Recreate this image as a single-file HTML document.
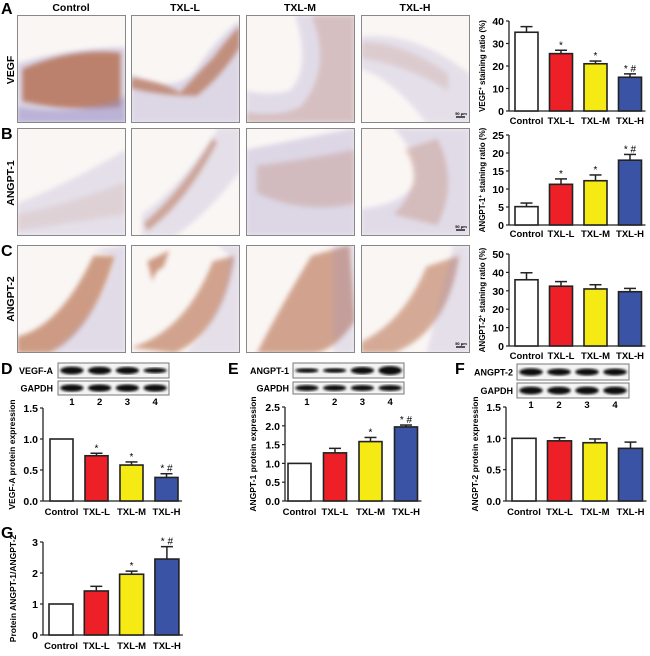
<!DOCTYPE html>
<html><head><meta charset="utf-8"><style>
body{margin:0;background:#fff;}
svg{display:block;font-family:"Liberation Sans",Arial,sans-serif;font-weight:bold;}
</style></head><body>
<svg id="fig" width="650" height="656" viewBox="0 0 650 656" xmlns="http://www.w3.org/2000/svg">
<defs>
<filter id="bl" x="-20%" y="-20%" width="140%" height="140%"><feGaussianBlur stdDeviation="2.5"/></filter>
<filter id="bl2"><feGaussianBlur stdDeviation="1.2"/></filter>
</defs>
<g id="micro"></g>
<g id="blots"></g>
<g id="charts"></g>
<g id="labels">
<text x="1" y="14" font-size="16">A</text>
<text x="1" y="139" font-size="16">B</text>
<text x="1" y="256" font-size="16">C</text>
<text x="1" y="374" font-size="16">D</text>
<text x="228" y="374" font-size="16">E</text>
<text x="455" y="374" font-size="16">F</text>
<text x="1" y="538" font-size="16">G</text>
<text x="71" y="11" font-size="10.5" text-anchor="middle">Control</text>
<text x="185" y="11" font-size="10.5" text-anchor="middle">TXL-L</text>
<text x="300" y="11" font-size="10.5" text-anchor="middle">TXL-M</text>
<text x="415" y="11" font-size="10.5" text-anchor="middle">TXL-H</text>
<text transform="translate(14,70) rotate(-90)" font-size="10.5" text-anchor="middle">VEGF</text>
<text transform="translate(14,183) rotate(-90)" font-size="10.5" text-anchor="middle">ANGPT-1</text>
<text transform="translate(14,299) rotate(-90)" font-size="10.5" text-anchor="middle">ANGPT-2</text>
</g>
</svg>
<script>
// ---- chart data ----
const groups = ["Control","TXL-L","TXL-M","TXL-H"];
const vegfStain = [35, 25.5, 21, 15];
const vegfStainErr = [2.5, 1.5, 1.2, 1.5];
const vegfStainSig = ["", "*", "*", "*#"];
const vegfTicks = [0,10,20,30,40];
const ang1Stain = [5.1, 11.3, 12.3, 18];
const ang1StainErr = [1, 1.5, 1.6, 1.6];
const ang1StainSig = ["", "*", "*", "*#"];
const ang1StainTicks = [0,5,10,15,20,25];
const ang2Stain = [36, 32.5, 31, 29.5];
const ang2StainErr = [3.8, 2.5, 2.3, 1.8];
const ang2StainSig = ["", "", "", ""];
const ang2StainTicks = [0,10,20,30,40,50];
const vegfaProt = [1, 0.73, 0.58, 0.38];
const vegfaProtErr = [0, 0.04, 0.05, 0.06];
const vegfaProtSig = ["", "*", "*", "*#"];
const protTicks15 = [0,0.5,1.0,1.5];
const ang1Prot = [1, 1.28, 1.58, 1.97];
const ang1ProtErr = [0, 0.12, 0.11, 0.05];
const ang1ProtSig = ["", "", "*", "*#"];
const ang1ProtTicks = [0,0.5,1.0,1.5,2.0,2.5];
const ang2Prot = [1, 0.96, 0.93, 0.84];
const ang2ProtErr = [0, 0.05, 0.06, 0.1];
const ang2ProtSig = ["", "", "", ""];
const ratio = [1, 1.42, 1.96, 2.45];
const ratioErr = [0, 0.15, 0.1, 0.4];
const ratioSig = ["", "", "*", "*#"];
const ratioTicks = [0,1,2,3];
const colors = ["#ffffff","#ee2027","#f5ea14","#3a53a4"];

const NS="http://www.w3.org/2000/svg";
function el(tag, attrs, parent){const e=document.createElementNS(NS,tag);for(const k in attrs)e.setAttribute(k,attrs[k]);parent.appendChild(e);return e;}

function chart(cfg, vals, errs, sigs, ticks, name){
  const g=el('g',{},document.getElementById('charts'));
  
  
  const yMax=ticks[ticks.length-1];
  const y=v=>cfg.base-(v/yMax)*(cfg.base-cfg.top);
  const pitch=cfg.pitch, bw=cfg.bw;
  const xb=i=>cfg.axis+cfg.off+i*pitch;
  const ya=el('line',{x1:cfg.axis,x2:cfg.axis,y1:cfg.top,y2:cfg.base,stroke:'#222','stroke-width':1.3},g);
  
  
  const xa=el('line',{x1:cfg.axis,x2:xb(3)+bw+4,y1:cfg.base,y2:cfg.base,stroke:'#222','stroke-width':1.3},g);
  
  
  ticks.forEach(t=>{
    el('line',{x1:cfg.axis-3,x2:cfg.axis,y1:y(t),y2:y(t),stroke:'#222','stroke-width':1.2},g);
    const tl=el('text',{x:cfg.axis-5,y:y(t)+4,'font-size':10.5,'text-anchor':'end'},g);
    tl.textContent=cfg.dec?t.toFixed(1):t;
    
    
  });
  vals.forEach((v,i)=>{
    const x=xb(i);
    const top=y(v+errs[i]);
    if(errs[i]>0){
      el('line',{x1:x+bw/2,x2:x+bw/2,y1:y(v),y2:top,stroke:'#222','stroke-width':1.5},g);
      el('line',{x1:x+bw/2-6,x2:x+bw/2+6,y1:top,y2:top,stroke:'#222','stroke-width':1.5},g);
    }
    const r=el('rect',{x:x,y:y(v),width:bw,height:cfg.base-y(v),fill:colors[i],stroke:'#222','stroke-width':1.6},g);
    
    
    if(sigs[i]){
      const s=el('text',{x:x+bw/2,y:top-2,'font-size':10,'text-anchor':'middle','font-weight':'normal'},g);
      s.textContent=sigs[i].split('').join(' ');
      
      
    }
    const xl=el('text',{x:x+bw/2,y:cfg.lab,'font-size':9.5,'text-anchor':'middle'},g);
    xl.textContent=groups[i];
    
    
  });
  const yt=el('text',{transform:`translate(${cfg.tx},${(cfg.top+cfg.base)/2}) rotate(-90)`,'font-size':cfg.tfs||8.5,'text-anchor':'middle'},g);
  yt.innerHTML=cfg.title;
  
  
}
chart({axis:509,off:6,pitch:34.5,bw:23,top:21,base:111,lab:124,tx:485,title:'VEGF<tspan baseline-shift="super" font-size="5">+</tspan> staining ratio (%)',tfs:8},vegfStain,vegfStainErr,vegfStainSig,vegfTicks,'chart-a-vegf-staining');
chart({axis:509,off:6,pitch:34.5,bw:23,top:135,base:225,lab:237,tx:485,title:'ANGPT-1<tspan baseline-shift="super" font-size="5">+</tspan> staining ratio (%)',tfs:8},ang1Stain,ang1StainErr,ang1StainSig,ang1StainTicks,'chart-b-angpt1-staining');
chart({axis:509,off:6,pitch:34.5,bw:23,top:254,base:346,lab:359,tx:485,title:'ANGPT-2<tspan baseline-shift="super" font-size="5">+</tspan> staining ratio (%)',tfs:8},ang2Stain,ang2StainErr,ang2StainSig,ang2StainTicks,'chart-c-angpt2-staining');
chart({axis:43,off:7,pitch:35,bw:23,top:408,base:501,lab:515,tx:15,dec:true,title:'VEGF-A protein expression'},vegfaProt,vegfaProtErr,vegfaProtSig,protTicks15,'chart-d-vegfa-protein');
chart({axis:285,off:3,pitch:35.5,bw:23,top:407,base:501,lab:515,tx:256,dec:true,title:'ANGPT-1 protein expression'},ang1Prot,ang1ProtErr,ang1ProtSig,ang1ProtTicks,'chart-e-angpt1-protein');
chart({axis:506,off:6,pitch:35.5,bw:24,top:407,base:501,lab:515,tx:478,dec:true,title:'ANGPT-2 protein expression'},ang2Prot,ang2ProtErr,ang2ProtSig,protTicks15,'chart-f-angpt2-protein');
chart({axis:43,off:6,pitch:35.3,bw:24,top:542,base:635,lab:649,tx:16,title:'Protein ANGPT-1/ANGPT-2'},ratio,ratioErr,ratioSig,ratioTicks,'chart-g-ratio');

// ---- micrographs ----
const mg=document.getElementById('micro');
const cols=[17,131,246,361], rows=[15,128,245], W=109, H=108;
const purple='#9a8fc6', brown='#b0603a', pale='#faf6f4';
const scenes=[
 [[purple,0.35,'M0,.45 Q.5,.3 1,.3 L1,1 L0,1Z'],[brown,0.7,'M.05,.5 Q.5,.3 .95,.35 L.95,.85 Q.5,.9 .05,.8Z'],[purple,.45,'M0,.85 Q.5,.95 1,.75 L1,1 L0,1Z']],
 [[purple,.3,'M0,.55 Q.4,.75 .6,.5 Q.8,.2 1,.05 L1,1 L0,1Z'],[brown,.6,'M0,.58 Q.3,.62 .45,.72 Q.6,.55 .75,.4 Q.9,.2 1,.1 L1,.3 Q.8,.6 .6,.75 Q.3,.75 0,.68Z']],
 [[purple,.25,'M.45,0 Q.6,.5 .4,.7 Q.2,.75 0,.7 L0,1 L1,1 L1,0Z'],[brown,.22,'M.6,0 Q.8,.5 .5,.85 Q.3,.95 0,.9 L0,1 L1,1 L1,0Z']],
 [[purple,.22,'M0,.2 Q.5,.15 1,.55 L1,1 L.6,1 Q.3,.6 0,.5Z'],[brown,.15,'M0,.25 Q.4,.25 .8,.55 L.8,.7 Q.4,.45 0,.4Z']],
 [[purple,.22,'M0,.7 Q.5,.5 1,.2 L1,1 L0,1Z'],[brown,.1,'M0,.8 Q.5,.7 1,.5 L1,.8 L0,.95Z']],
 [[purple,.22,'M.1,.8 Q.5,.5 .8,0 L1,0 L1,.4 Q.7,.8 .4,1 L.1,1Z'],[brown,.45,'M.12,.88 Q.45,.6 .75,.1 L.79,.13 Q.5,.7 .15,.95Z']],
 [[purple,.3,'M0,.2 Q.5,.1 1,0 L1,1 L0,1Z'],[brown,.22,'M.1,.35 Q.5,.3 1,.2 L1,.7 Q.5,.8 .1,.6Z']],
 [[purple,.25,'M.3,0 Q.5,.2 .5,.5 Q.4,.7 0,.75 L0,1 L1,1 L1,0Z'],[brown,.25,'M.4,.2 Q.6,.5 .3,.8 L.7,.9 Q.9,.5 .7,.1Z']],
 [[brown,.6,'M0,.85 Q.4,.75 .7,.1 L.9,.1 Q.7,.8 .3,1 L0,1Z'],[purple,.25,'M.7,.05 L1,0 L1,1 L.3,1 Q.8,.6 .9,.1Z']],
 [[brown,.55,'M0,.95 Q.5,.8 .75,.15 L.95,.1 Q.85,.8 .4,1Z'],[purple,.22,'M.8,0 L1,0 L1,1 L.5,1 Q.9,.6 .9,.1Z'],[brown,.6,'M.15,.15 Q.3,.08 .35,.05 L.3,.2 Q.2,.25 .2,.35Z']],
 [[brown,.55,'M.1,1 Q.3,.6 .6,.1 L.95,0 L1,.7 Q.8,1 .6,1Z'],[purple,.22,'M.8,0 L1,0 L1,1 L.8,1Z']],
 [[brown,.5,'M0,.9 Q.4,.7 .6,.2 L.9,.1 Q.8,.8 .3,1 L0,1Z'],[purple,.22,'M.85,0 L1,0 L1,1 L.6,1Z']]
];
rows.forEach((ry,r)=>cols.forEach((cx,c)=>{
  const g=el('g',{},mg);
  
  
  const cp='cp'+r+c;
  const cl=el('clipPath',{id:cp},g); el('rect',{x:cx,y:ry,width:W,height:H},cl);
  const inner=el('g',{'clip-path':`url(#${cp})`},g);
  el('rect',{x:cx,y:ry,width:W,height:H,fill:pale},inner);
  const sc=scenes[r*4+c];
  sc.forEach(([col,op,d])=>{
    const dd=d.replace(/(\.\d+|\d+(\.\d+)?),(\.\d+|\d+(\.\d+)?)/g,(m,a,_,b)=>(cx+parseFloat(a)*W).toFixed(1)+','+(ry+parseFloat(b)*H).toFixed(1));
    el('path',{d:dd,fill:col,opacity:op,filter:'url(#bl)'},inner);
  });
  el('rect',{x:cx+.5,y:ry+.5,width:W-1,height:H-1,fill:'none',stroke:'#888','stroke-width':1},g);
  if(c===3){el('line',{x1:cx+W-14,x2:cx+W-5,y1:ry+H-6,y2:ry+H-6,stroke:'#222','stroke-width':1.5},g);
    const sb=el('text',{x:cx+W-9,y:ry+H-8,'font-size':4,'text-anchor':'middle'},g);sb.textContent='50 μm';
    
    }
}));

// ---- western blots ----
const bg=document.getElementById('blots');
function blot(x,y,w,h,label,lx,intens,name){
  const g=el('g',{},bg);
  
  
  el('rect',{x:x,y:y,width:w,height:h,fill:'#f4f4f4',stroke:'#777','stroke-width':1},g);
  intens.forEach((t,i)=>{
    const cx=x+w*(i+0.5)/4;
    el('ellipse',{cx:cx,cy:y+h/2,rx:w/9.5,ry:h*0.2*t+0.6,fill:'#111',filter:'url(#bl2)'},g);
  });
  const t=el('text',{x:lx,y:y+h/2+3.5,'font-size':9,'text-anchor':'end'},g);t.textContent=label;
}
function lanes(x,w,y){for(let i=0;i<4;i++){const t=el('text',{x:x+w*(i+.5)/4,y:y,'font-size':9.5,'text-anchor':'middle'},bg);t.textContent=i+1;
  
  }}
blot(58,363,111,15,'VEGF-A',53,[1.1,1.1,1.0,0.7],'blot-vegfa');
blot(58,381,111,14,'GAPDH',53,[1.1,1.1,1.1,1.1],'blot-gapdh-d');
lanes(58,111,405);
blot(293,363,111,15,'ANGPT-1',289,[0.6,0.6,1.0,1.3],'blot-angpt1');
blot(293,382,111,12,'GAPDH',289,[1,1,1,1],'blot-gapdh-e');
lanes(293,111,405);
blot(517,364,112,16,'ANGPT-2',513,[1.0,0.9,0.9,0.9],'blot-angpt2');
blot(517,383,112,15,'GAPDH',513,[1.1,1.1,1.1,1.1],'blot-gapdh-f');
lanes(517,112,408);
</script>
</body></html>
